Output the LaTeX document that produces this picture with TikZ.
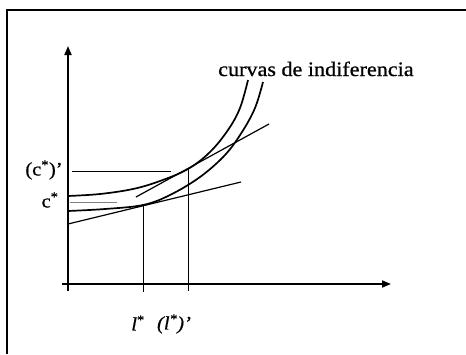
\documentclass[tikz,border=0pt]{standalone}
\usepackage{fontspec}
\setmainfont[FakeBold=0.7,FakeStretch=1.08]{Liberation Serif}
\usetikzlibrary{arrows.meta}
\begin{document}
\begin{tikzpicture}[x=1pt,y=-1pt,
  axis/.style={line width=1.7pt,-{Triangle[length=9pt,width=7pt]}},
  curve/.style={line width=1.7pt},
  budget/.style={line width=1.2pt},
  guide/.style={line width=0.7pt},
  lab/.style={inner sep=0pt,font=\fontsize{19}{22}\selectfont}]
\useasboundingbox (0,0) rectangle (466,354);
% frame (only top and left edges visible)
\draw[line width=1.5pt] (466,10) -- (7,10) -- (7,354);
% axes
\coordinate (o) at (68,284);
\coordinate (ybot) at (68,291);
\coordinate (ytop) at (68,46);
\coordinate (xl) at (62,284);
\coordinate (xr) at (391,284);
\draw[axis] (ybot) -- (ytop);
\draw[axis] (xl) -- (xr);
% guide lines
\coordinate (cs1) at (72,171);
\coordinate (cs2) at (171,171);
\coordinate (c1) at (70,202);
\coordinate (c2) at (117,202);
\draw[guide] (cs1) -- (cs2);
\draw[guide,gray] (c1) -- (c2);
\coordinate (t1) at (143,205);
\coordinate (t1b) at (143,292);
\coordinate (t2) at (188,169);
\coordinate (t2b) at (188,291);
\draw[guide] (t1) -- (t1b);
\draw[guide] (t2) -- (t2b);
% indifference curves
\draw[curve] plot[smooth,tension=0.6] coordinates {(68,196) (100,194) (133,189) (160,181) (188,169) (210,152) (228,130) (240,108) (248,80)};
\draw[curve] plot[smooth,tension=0.6] coordinates {(68,211) (105,209) (143,205) (170,195) (200,177) (225,155) (242,132) (255,108) (263,82)};
% budget lines
\coordinate (b1a) at (68,224);
\coordinate (b1b) at (241,182);
\coordinate (b2a) at (136,197);
\coordinate (b2b) at (269,124);
\draw[budget] (b1a) -- (b1b);
\draw[budget] (b2a) -- (b2b);
% labels
\node[lab,font=\fontsize{20.5}{24}\selectfont,anchor=base west] (ci) at (218,76) {curvas de indiferencia};
\node[lab] (lcs) at (44,170) {(c\textsuperscript{*})’};
\node[lab] (lc) at (50,200) {c\textsuperscript{*}};
\node[lab] (ll) at (138,323) {\textit{l}\textsuperscript{*}};
\node[lab] (lls) at (174,324) {\textit{(l\textsuperscript{*})’}};
\end{tikzpicture}
\end{document}
